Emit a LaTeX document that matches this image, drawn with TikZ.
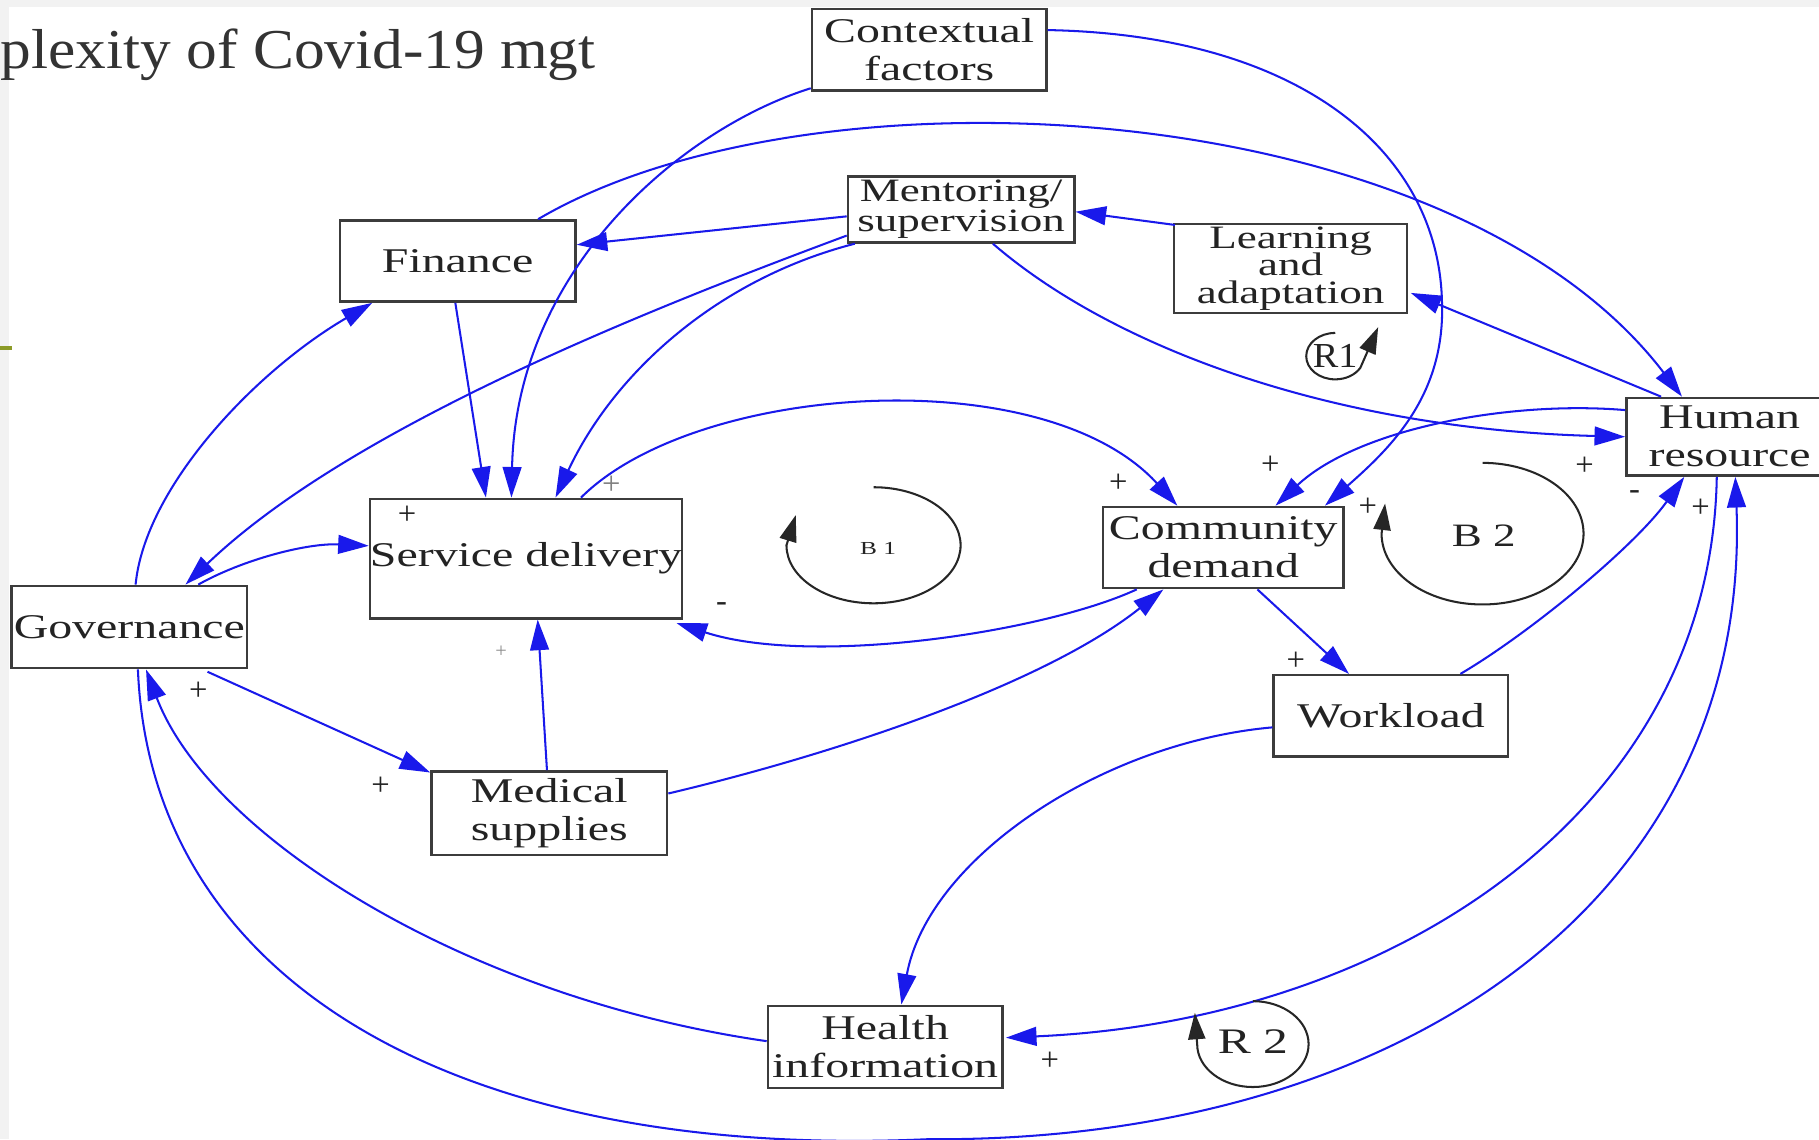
\documentclass[tikz,border=0pt]{standalone}
\usepackage{fontspec}
\setmainfont{Liberation Serif}
\newfontfamily\boxfont[FakeStretch=1.38]{Liberation Serif}
\newfontfamily\titlefont[FakeStretch=1.09]{Liberation Serif}
\usetikzlibrary{arrows.meta,calc}
\definecolor{linkblue}{RGB}{25,25,235}
\definecolor{boxline}{RGB}{60,60,60}
\definecolor{txtgray}{RGB}{35,35,35}
\definecolor{olivegreen}{RGB}{140,155,40}
\definecolor{bandgray}{RGB}{242,242,242}
\tikzset{
  var/.style={draw=boxline, line width=0.6pt, fill=white, inner sep=0pt, align=center,
    text=txtgray, font=\boxfont\fontsize{8.5}{9.3}\selectfont},
  link/.style={draw=linkblue, line width=0.5pt, -{Triangle[length=7.5pt,width=4.6pt]}},
  sign/.style={text=txtgray, font=\fontsize{8}{8}\selectfont, inner sep=0pt},
  loopmark/.style={draw=black!85, line width=0.5pt, -{Triangle[length=6.5pt,width=4.2pt]}},
  looplbl/.style={text=txtgray, inner sep=0pt, font=\boxfont\fontsize{8}{8}\selectfont},
}
\begin{document}
\begin{tikzpicture}[x=0.01cm, y=-0.01cm]
\useasboundingbox (0,0) rectangle (1568,982);
\begin{scope}
\clip (0,0) rectangle (1568,982);
\fill[white] (0,0) rectangle (1568,982);
\fill[bandgray] (0,0) rectangle (1568,6);
\fill[bandgray] (0,0) rectangle (8,982);
\draw[olivegreen, line width=0.8pt] (0,300) -- (10,300);

\node[anchor=base west, inner sep=0pt, text=black!80,
  font=\titlefont\fontsize{13.8}{16}\selectfont] (title) at (0,59) {plexity of Covid-19 mgt};

% variables
\node[var, minimum width=2.02cm, minimum height=0.70cm] (ctx) at (801,43) {Contextual\\factors};
\node[var, minimum width=2.03cm, minimum height=0.70cm] (fin) at (394.5,225) {Finance};
\node[var, minimum width=1.95cm, minimum height=0.57cm,
  font=\boxfont\fontsize{8}{9}\selectfont] (men) at (828.5,180.5) {Mentoring/\\[-1.6pt]supervision};
\node[var, minimum width=2.01cm, minimum height=0.77cm,
  font=\boxfont\fontsize{8}{9}\selectfont] (lrn) at (1112.5,231.5) {Learning\\[-2.2pt]and\\[-2.2pt]adaptation};
\node[var, minimum width=1.78cm, minimum height=0.67cm] (hr) at (1491,376.5) {Human\\resource};
\node[var, minimum width=2.63cm, minimum height=1.03cm] (sd) at (453.5,481.5) {Service delivery};
\node[var, minimum width=2.07cm, minimum height=0.70cm] (cd) at (1054.5,472) {Community\\demand};
\node[var, minimum width=2.03cm, minimum height=0.71cm] (gov) at (111.5,540.5) {Governance};
\node[var, minimum width=2.02cm, minimum height=0.70cm] (wl) at (1199,617) {Workload};
\node[var, minimum width=2.03cm, minimum height=0.72cm] (med) at (473.5,701) {Medical\\supplies};
\node[var, minimum width=2.02cm, minimum height=0.71cm] (hi) at (763,902.5) {Health\\information};

% connectors
\draw[link] ($(ctx.south west)+(0,-3)$) .. controls (590,110) and (445,230) .. ($(sd.north west)+(123,0)$);
\draw[link] ($(ctx.north east)+(0,19)$) .. controls (1120,30) and (1240,130) .. (1243,260)
   .. controls (1246,340) and (1200,385) .. ($(cd.north east)+(-17,0)$);
\draw[link] ($(fin.north west)+(172,0)$) .. controls (700,50) and (1250,80) .. ($(hr.north west)+(49,0)$);
\draw[link] ($(men.west)+(0,6)$) -- ($(fin.east)+(0,-14)$);
\draw[link] ($(men.south west)+(0,-7)$) .. controls (550,270) and (300,370) .. ($(gov.north west)+(151,0)$);
\draw[link] ($(men.south west)+(7,0)$) .. controls (620,240) and (530,320) .. ($(sd.north west)+(161,0)$);
\draw[link] ($(men.south west)+(126,0)$) .. controls (960,300) and (1150,370) .. (hr.west);
\draw[link] ($(lrn.north west)+(2,2)$) -- ($(men.east)+(0,2)$);
\draw[link] ($(hr.north west)+(31,0)$) -- ($(lrn.east)+(2,21)$);
\draw[link] ($(hr.west)+(0,-23)$) .. controls (1300,345) and (1170,370) .. ($(cd.north)+(45,0)$);
\draw[link] ($(sd.north west)+(183,0)$) .. controls (600,330) and (900,310) .. ($(cd.north west)+(65,0)$);
\draw[link] ($(cd.south west)+(30,0)$) .. controls (900,545) and (700,575) .. ($(sd.south east)+(-6,3)$);
\draw[link] ($(med.east)+(0,-17)$) .. controls (720,650) and (900,590) .. ($(cd.south west)+(53,0)$);
\draw[link] ($(med.north)+(-2,0)$) -- ($(sd.south)+(10,0)$);
\draw[link] ($(gov.north west)+(162,0)$) .. controls (210,482) and (265,468) .. ($(sd.west)+(0,-11)$);
\draw[link] ($(gov.north west)+(108,0)$) .. controls (125,420) and (220,320) .. ($(fin.south west)+(29,0)$);
\draw[link] ($(gov.south west)+(170,2)$) -- ($(med.north west)+(0,2)$);
\draw[link] ($(cd.south west)+(134,0)$) -- ($(wl.north west)+(66,0)$);
\draw[link] ($(wl.north west)+(162,0)$) .. controls (1320,545) and (1410,470) .. ($(hr.south west)+(51,0)$);
\draw[link] ($(wl.west)+(0,10)$) .. controls (950,640) and (800,740) .. ($(hi.north)+(14,0)$);
\draw[link] ($(hr.south west)+(79,0)$) .. controls (1475,700) and (1200,880) .. ($(hi.east)+(2,-8)$);
\draw[link] ($(hi.west)+(0,-5)$) .. controls (400,860) and (180,720) .. ($(gov.south west)+(117,0)$);
\draw[link] ($(gov.south west)+(110,0)$) .. controls (130,850) and (400,1000) .. (800,982)
   .. controls (1200,985) and (1510,780) .. ($(hr.south west)+(95,0)$);
\draw[link] ($(fin.south)+(-2,0)$) -- ($(sd.north west)+(101,0)$);

% loop markers
\draw[loopmark] (753,420) arc[start angle=90, end angle=-180, x radius=0.75cm, y radius=0.5cm] -- ++(8,-26);
\node[looplbl, font=\boxfont\fontsize{4.5}{5}\selectfont] (b1) at (757,473) {B 1};
\draw[loopmark] (1278,399) arc[start angle=90, end angle=-180, x radius=0.87cm, y radius=0.61cm] -- ++(3,-26);
\node[looplbl] (b2) at (1279,462) {B 2};
\draw[loopmark] (1080,863) arc[start angle=90, end angle=-180, x radius=0.48cm, y radius=0.37cm] -- ++(-2,-27);
\node[looplbl, font=\boxfont\fontsize{8.8}{9}\selectfont] (r2) at (1080,898) {R 2};
\draw[loopmark] (1151,287) arc[start angle=90, end angle=330, x radius=0.25cm, y radius=0.2cm] -- (1188,282);
\node[looplbl, font=\titlefont\fontsize{8.6}{9}\selectfont] (r1) at (1151,307) {R1};

% polarity signs
\node[sign] (p1) at (351,444) {+};
\node[sign, text=black!50] (p2) at (527,418) {+};
\node[sign] (p3) at (964,417) {+};
\node[sign] (p4) at (1095,401) {+};
\node[sign] (p5) at (1179,437) {+};
\node[sign] (p6) at (1366,402) {+};
\node[sign] (p7) at (1409,427) {-};
\node[sign] (p8) at (1466,438) {+};
\node[sign] (p9) at (622,523) {-};
\node[sign, text=black!45, font=\fontsize{5}{5}\selectfont] (p10) at (432,562) {+};
\node[sign] (p11) at (171,596) {+};
\node[sign] (p12) at (328,678) {+};
\node[sign] (p13) at (1117,570) {+};
\node[sign] (p14) at (905,915) {+};
\end{scope}
\end{tikzpicture}
\end{document}
